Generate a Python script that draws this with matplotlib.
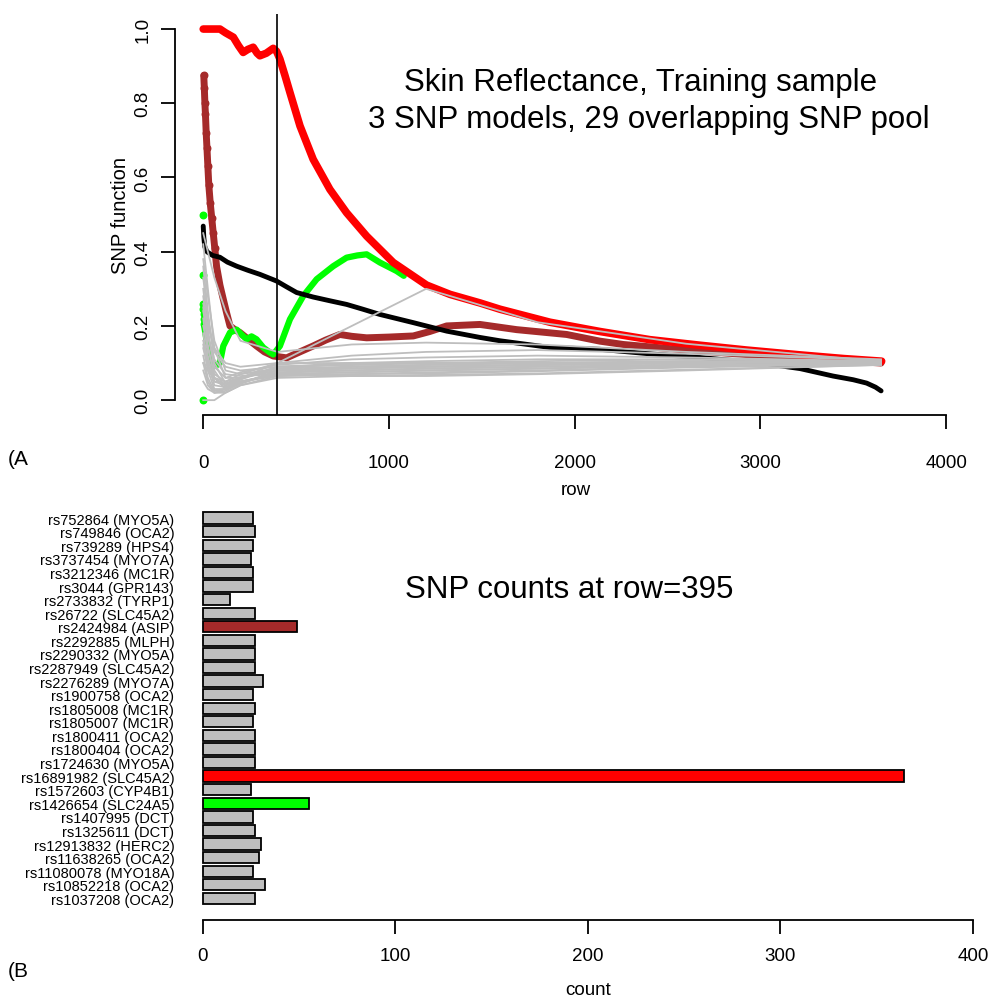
import matplotlib
matplotlib.use("Agg")
import matplotlib.pyplot as plt

plt.rcParams['font.family'] = ['Liberation Sans', 'DejaVu Sans']

# ---- panel A: SNP function along the ranked rows ----
red_x = [0, 90, 120, 162, 190, 215, 240, 269, 290, 305, 340, 377, 395, 413, 440, 467,
         521, 592, 682, 772, 880, 1023, 1203, 1329, 1490, 1598, 1867, 2136, 2405,
         2675, 2926, 3213, 3450, 3653]
red_y = [1.0, 1.0, 0.99, 0.978, 0.955, 0.937, 0.945, 0.951, 0.935, 0.928, 0.935, 0.948,
         0.94, 0.919, 0.875, 0.829, 0.739, 0.649, 0.568, 0.505, 0.442, 0.371, 0.31,
         0.285, 0.262, 0.245, 0.21, 0.185, 0.163, 0.148, 0.135, 0.122, 0.112, 0.105]

brown_x = [3, 6, 9, 12, 16, 20, 25, 30, 38, 46, 54, 62, 72, 90, 108, 126, 144, 170, 198,
           240, 287, 330, 377, 449, 520, 592, 660, 736, 800, 880, 1000, 1131, 1220, 1311,
           1490, 1688, 1957, 2136, 2262, 2600, 3000, 3400, 3650]
brown_y = [0.875, 0.84, 0.80, 0.77, 0.72, 0.68, 0.63, 0.58, 0.53, 0.49, 0.45, 0.41, 0.36,
           0.31, 0.272, 0.235, 0.20, 0.19, 0.182, 0.165, 0.146, 0.13, 0.119, 0.114, 0.13,
           0.146, 0.162, 0.177, 0.172, 0.168, 0.17, 0.173, 0.185, 0.20, 0.204, 0.19, 0.177,
           0.159, 0.15, 0.135, 0.12, 0.108, 0.10]

green_pts_x = [0, 0, 0, 0, 0, 2, 3, 4]
green_pts_y = [0.0, 0.5, 0.336, 0.258, 0.245, 0.232, 0.218, 0.205]
green_x = [5, 15, 25, 40, 53, 75, 90, 108, 144, 180, 210, 234, 260, 287, 323, 360, 377,
           413, 467, 539, 611, 700, 772, 830, 880, 951, 1041, 1080]
green_y = [0.2, 0.17, 0.14, 0.11, 0.092, 0.095, 0.101, 0.146, 0.182, 0.19, 0.175, 0.164,
           0.172, 0.164, 0.142, 0.128, 0.123, 0.146, 0.218, 0.281, 0.326, 0.361, 0.384,
           0.39, 0.393, 0.371, 0.348, 0.335]

black_x = [0, 3, 8, 20, 50, 90, 130, 180, 240, 305, 395, 450, 503, 591, 680, 772, 860,
           951, 1130, 1311, 1490, 1598, 1867, 2136, 2400, 2675, 3000, 3214, 3391, 3500,
           3572, 3620, 3650]
black_y = [0.469, 0.44, 0.414, 0.40, 0.39, 0.385, 0.372, 0.361, 0.35, 0.339, 0.321, 0.305,
           0.29, 0.278, 0.268, 0.258, 0.245, 0.231, 0.209, 0.186, 0.169, 0.16, 0.142,
           0.137, 0.125, 0.115, 0.10, 0.085, 0.065, 0.055, 0.046, 0.035, 0.025]

gray_x = [0, 25, 60, 120, 200, 400, 800, 1200, 1800, 2600, 3650]
gray_lines = [
    [0.42, 0.30, 0.14, 0.06, 0.06, 0.08, 0.085, 0.09, 0.095, 0.10, 0.100],
    [0.36, 0.24, 0.10, 0.045, 0.05, 0.07, 0.075, 0.08, 0.085, 0.092, 0.100],
    [0.30, 0.19, 0.08, 0.035, 0.045, 0.075, 0.08, 0.085, 0.09, 0.095, 0.098],
    [0.25, 0.15, 0.06, 0.03, 0.045, 0.08, 0.09, 0.09, 0.095, 0.10, 0.102],
    [0.22, 0.12, 0.05, 0.04, 0.06, 0.085, 0.09, 0.095, 0.10, 0.105, 0.105],
    [0.18, 0.10, 0.04, 0.035, 0.055, 0.09, 0.095, 0.10, 0.10, 0.10, 0.100],
    [0.15, 0.08, 0.03, 0.03, 0.05, 0.07, 0.065, 0.065, 0.07, 0.08, 0.095],
    [0.12, 0.06, 0.025, 0.03, 0.06, 0.09, 0.10, 0.10, 0.105, 0.11, 0.105],
    [0.10, 0.05, 0.02, 0.025, 0.045, 0.075, 0.08, 0.085, 0.09, 0.095, 0.100],
    [0.08, 0.04, 0.02, 0.02, 0.04, 0.065, 0.07, 0.072, 0.078, 0.088, 0.097],
    [0.20, 0.14, 0.07, 0.05, 0.07, 0.10, 0.10, 0.10, 0.10, 0.10, 0.100],
    [0.28, 0.18, 0.09, 0.06, 0.075, 0.095, 0.11, 0.115, 0.12, 0.115, 0.105],
    [0.14, 0.09, 0.05, 0.045, 0.06, 0.08, 0.085, 0.09, 0.095, 0.10, 0.100],
    [0.38, 0.28, 0.16, 0.08, 0.07, 0.085, 0.10, 0.105, 0.11, 0.11, 0.104],
    [0.00, 0.00, 0.00, 0.02, 0.04, 0.06, 0.065, 0.068, 0.072, 0.082, 0.095],
    [0.24, 0.17, 0.11, 0.07, 0.065, 0.07, 0.075, 0.08, 0.085, 0.095, 0.100],
    [0.33, 0.22, 0.13, 0.09, 0.08, 0.09, 0.095, 0.10, 0.10, 0.105, 0.102],
    [0.16, 0.11, 0.06, 0.04, 0.05, 0.065, 0.07, 0.075, 0.08, 0.09, 0.099],
    [0.26, 0.20, 0.14, 0.10, 0.09, 0.10, 0.12, 0.13, 0.135, 0.125, 0.108],
    [0.45, 0.40, 0.33, 0.24, 0.16, 0.13, 0.15, 0.155, 0.15, 0.13, 0.110],
    [0.10, 0.08, 0.06, 0.05, 0.06, 0.10, 0.20, 0.30, 0.21, 0.152, 0.104],
    [0.05, 0.03, 0.02, 0.03, 0.05, 0.07, 0.09, 0.095, 0.10, 0.10, 0.100],
]
row_cut = 395

# ---- panel B: SNP counts at row 395 (top to bottom as in the chart) ----
snp_labels = ["rs752864 (MYO5A)", "rs749846 (OCA2)", "rs739289 (HPS4)", "rs3737454 (MYO7A)",
              "rs3212346 (MC1R)", "rs3044 (GPR143)", "rs2733832 (TYRP1)", "rs26722 (SLC45A2)",
              "rs2424984 (ASIP)", "rs2292885 (MLPH)", "rs2290332 (MYO5A)", "rs2287949 (SLC45A2)",
              "rs2276289 (MYO7A)", "rs1900758 (OCA2)", "rs1805008 (MC1R)", "rs1805007 (MC1R)",
              "rs1800411 (OCA2)", "rs1800404 (OCA2)", "rs1724630 (MYO5A)", "rs16891982 (SLC45A2)",
              "rs1572603 (CYP4B1)", "rs1426654 (SLC24A5)", "rs1407995 (DCT)", "rs1325611 (DCT)",
              "rs12913832 (HERC2)", "rs11638265 (OCA2)", "rs11080078 (MYO18A)", "rs10852218 (OCA2)",
              "rs1037208 (OCA2)"]
snp_counts = [26, 27, 26, 25, 26, 26, 14, 27, 49, 27, 27, 27, 31, 26, 27, 26, 27, 27, 27,
              364, 25, 55, 26, 27, 30, 29, 26, 32, 27]
highlight = {"rs2424984 (ASIP)": "#A52A2A", "rs16891982 (SLC45A2)": "#FF0000",
             "rs1426654 (SLC24A5)": "#00FF00"}

W, H = 993, 1003
fig = plt.figure(figsize=(W / 100, H / 100), dpi=100)


def axes_px(left, top, right, bottom):
    return fig.add_axes([left / W, 1 - bottom / H, (right - left) / W, (bottom - top) / H])


ax1 = axes_px(175, 15.2, 975.8, 416)
for g in gray_lines:
    ax1.plot(gray_x, g, color="#BEBEBE", lw=1.3, zorder=5)
ax1.plot(brown_x, brown_y, color="#A52A2A", lw=5, zorder=2, solid_capstyle="round")
ax1.scatter(brown_x[:12], brown_y[:12], s=22, color="#A52A2A", zorder=2)
ax1.plot(green_x, green_y, color="#00FF00", lw=4.5, zorder=3, solid_capstyle="round")
ax1.scatter(green_pts_x, green_pts_y, s=22, color="#00FF00", zorder=3)
ax1.plot(black_x, black_y, color="black", lw=3.5, zorder=3, solid_capstyle="round")
ax1.plot(red_x, red_y, color="#FF0000", lw=5.5, zorder=4, solid_capstyle="round")
ax1.axvline(row_cut, color="black", lw=1.2, zorder=6)

ax1.set_xlim(-152, 4160)
ax1.set_ylim(-0.04, 1.04)
for s in ["top", "right"]:
    ax1.spines[s].set_visible(False)
ax1.spines["left"].set_bounds(0, 1)
ax1.spines["bottom"].set_bounds(0, 4000)
for s in ["left", "bottom"]:
    ax1.spines[s].set_linewidth(1.3)
ax1.set_xticks([0, 1000, 2000, 3000, 4000])
ax1.set_yticks([0, 0.2, 0.4, 0.6, 0.8, 1.0])
ax1.set_yticklabels(["0.0", "0.2", "0.4", "0.6", "0.8", "1.0"], rotation=90, va="center")
ax1.tick_params(axis="both", length=10, width=1.3, labelsize=13.5)
ax1.tick_params(axis="x", pad=18)
ax1.tick_params(axis="y", pad=7)
ax1.set_xlabel("row", fontsize=13.5, labelpad=7)
ax1.set_ylabel("SNP function", fontsize=14.5, labelpad=3)

fig.text(404 / W, 1 - 91 / H, "Skin Reflectance, Training sample", fontsize=22.5, va="baseline")
fig.text(368 / W, 1 - 128 / H, "3 SNP models, 29 overlapping SNP pool", fontsize=22.5, va="baseline")
fig.text(8 / W, 1 - 460 / H, "(A", fontsize=15, va="center")

ax2 = axes_px(172.2, 497.8, 1003.8, 920.7)
n = len(snp_labels)
pos = [0.7 + 1.2 * (n - 1 - i) for i in range(n)]
colors = [highlight.get(lab, "#BEBEBE") for lab in snp_labels]
ax2.barh(pos, snp_counts, height=1.0, color=colors, edgecolor="black", linewidth=1.3)
ax2.set_xlim(-16, 416)
ax2.set_ylim(-1.184, 36.184)
for s in ["top", "right", "left"]:
    ax2.spines[s].set_visible(False)
ax2.spines["bottom"].set_bounds(0, 400)
ax2.spines["bottom"].set_linewidth(1.3)
ax2.set_xticks([0, 100, 200, 300, 400])
ax2.set_yticks(pos)
ax2.set_yticklabels(snp_labels, fontsize=10.5)
ax2.tick_params(axis="y", length=0, pad=-1.5)
ax2.tick_params(axis="x", length=10, width=1.3, labelsize=13.5, pad=10)
ax2.set_xlabel("count", fontsize=13.5, labelpad=12)

fig.text(405 / W, 1 - 598 / H, "SNP counts at row=395", fontsize=22.5, va="baseline")
fig.text(8 / W, 1 - 972 / H, "(B", fontsize=15, va="center")

fig.savefig("out.png", dpi=100)
